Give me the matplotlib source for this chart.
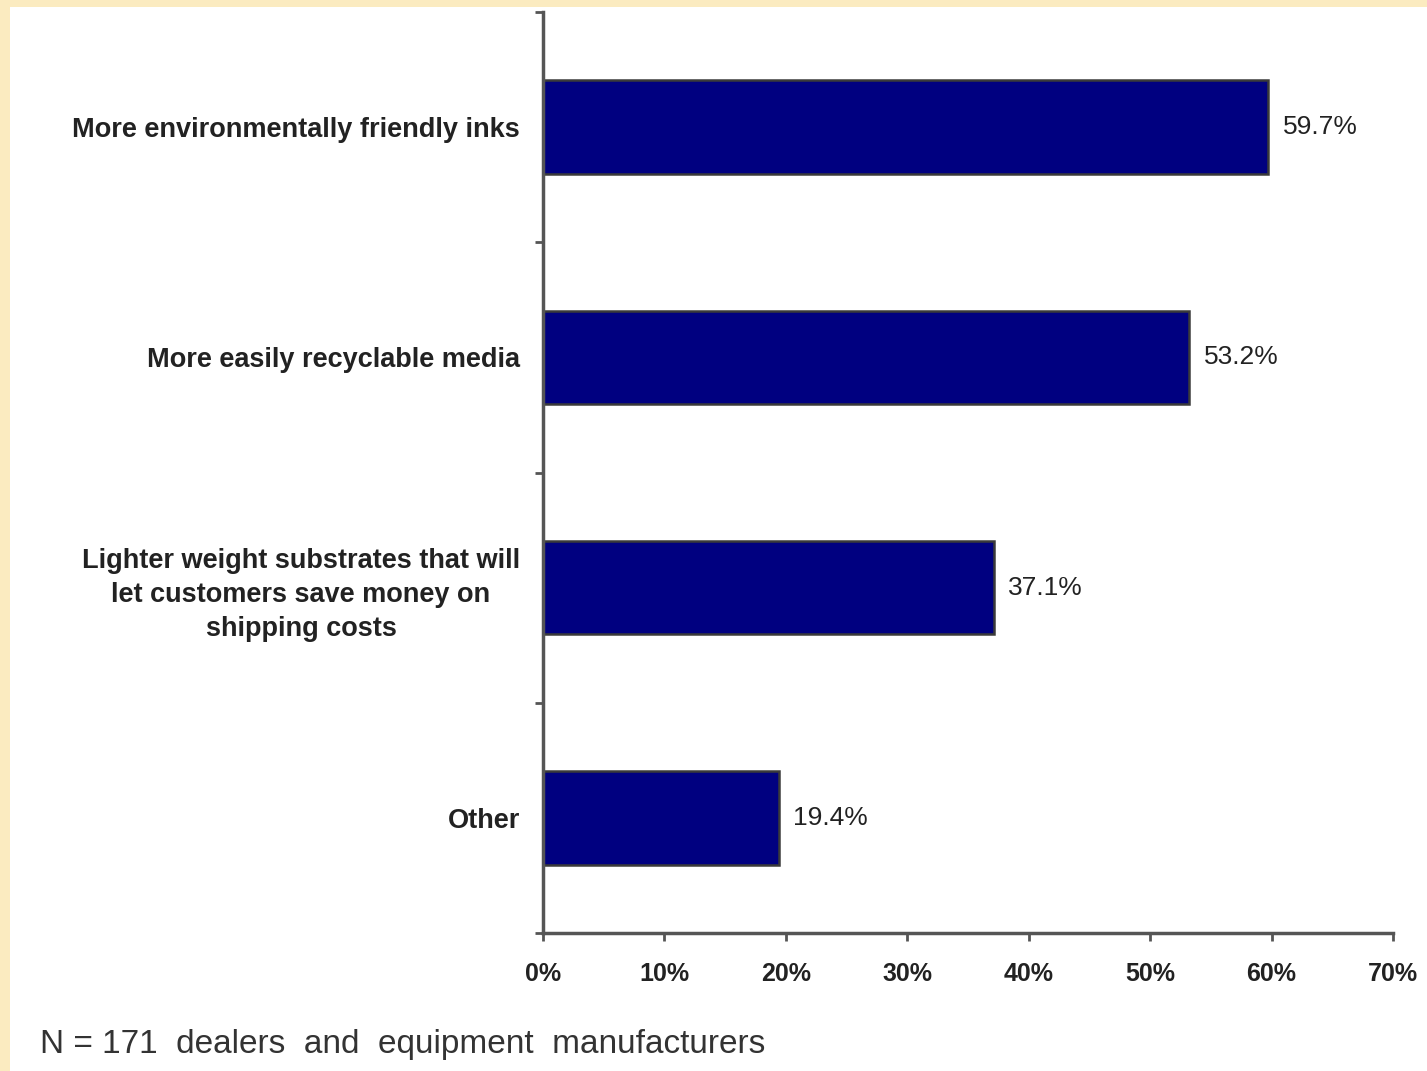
import matplotlib
matplotlib.use("Agg")
import matplotlib.pyplot as plt
from matplotlib.patches import Rectangle

categories = [
    "More environmentally friendly inks",
    "More easily recyclable media",
    "Lighter weight substrates that will\nlet customers save money on\nshipping costs",
    "Other",
]
values = [59.7, 53.2, 37.1, 19.4]
value_labels = ["59.7%", "53.2%", "37.1%", "19.4%"]
x_ticks = [0, 10, 20, 30, 40, 50, 60, 70]
x_tick_labels = ["0%", "10%", "20%", "30%", "40%", "50%", "60%", "70%"]
footnote = "N = 171  dealers  and  equipment  manufacturers"

plt.rcParams['font.family'] = ['Liberation Sans', 'DejaVu Sans']

fig = plt.figure(figsize=(14.27, 10.71), dpi=100)
fig.patch.set_facecolor("#FBEBC0")
# white panel
fig.patches.append(Rectangle((10/1427, 0), 1 - 10/1427, 1 - 7/1071,
                             transform=fig.transFigure, facecolor="white",
                             edgecolor="none", zorder=-10))

ax = fig.add_axes([543/1427, 138/1071, 850/1427, 921/1071])
ax.set_facecolor("none")
n = len(categories)
ypos = list(range(n))
ax.barh(ypos, values, height=0.405, color="#000080", edgecolor="#3a3a3a",
        linewidth=1.8, zorder=2)
ax.set_ylim(n - 0.5, -0.5)
ax.set_xlim(0, 70)

for y, v, lab in zip(ypos, values, value_labels):
    ax.text(v + 1.2, y, lab, va="center", ha="left", fontsize=19,
            color="#222222")

ax.set_xticks(x_ticks)
ax.set_xticklabels(x_tick_labels, fontsize=18, fontweight="bold", color="#222222")
ax.set_yticks([i + 0.5 for i in range(-1, n)], minor=False)
ax.set_yticklabels([])
ax.set_yticks(ypos, minor=True)
ax.set_yticklabels(categories, minor=True, fontsize=19.5, fontweight="bold",
                   color="#222222", ha="right", multialignment="center",
                   linespacing=1.4)
ax.tick_params(axis="y", which="minor", length=0, pad=16.5)
ax.tick_params(axis="y", which="major", length=6, width=2, color="#555555",
               direction="out")
ax.tick_params(axis="x", length=6, width=2, color="#555555", direction="out",
               pad=15)

for s in ["top", "right"]:
    ax.spines[s].set_visible(False)
for s in ["left", "bottom"]:
    ax.spines[s].set_linewidth(2.5)
    ax.spines[s].set_color("#555555")

fig.text(40/1427, 1 - 1045/1071, footnote, fontsize=24, color="#333333",
         ha="left", va="center")

fig.savefig("out.png", dpi=100, facecolor=fig.get_facecolor())
